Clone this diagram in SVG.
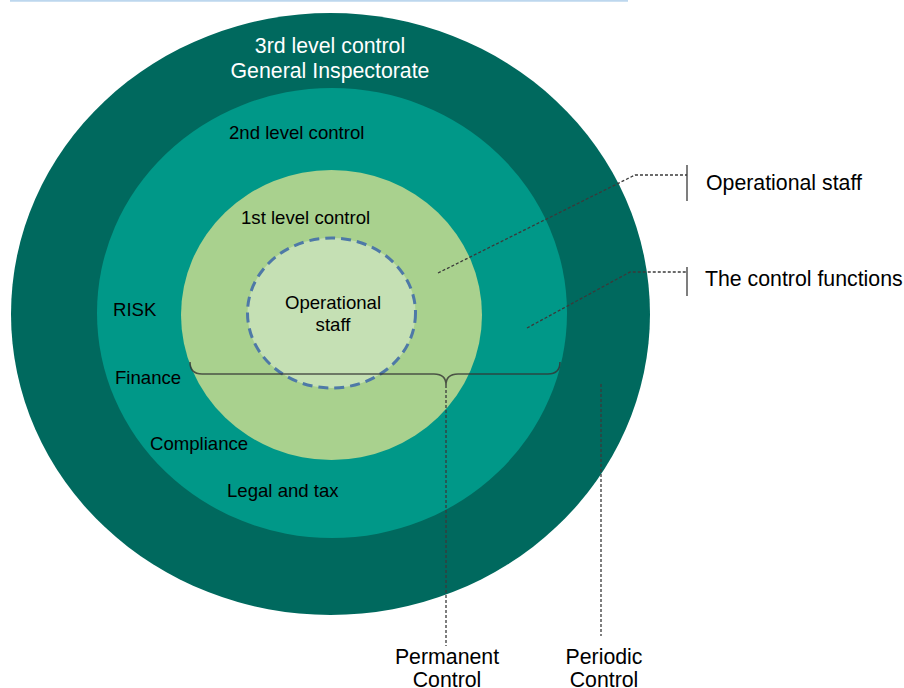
<svg xmlns="http://www.w3.org/2000/svg" width="904" height="688" viewBox="0 0 904 688">
  <style>
    .lbl { font-family: "Liberation Sans", Arial, sans-serif; fill: #000; }
    .s16 { font-size: 18.6px; }
    .s19 { font-size: 21.3px; }
    .white { fill: #ffffff; }
    .mid { text-anchor: middle; }
    .lead { fill: none; stroke: #3a3a3a; stroke-width: 1.3; stroke-dasharray: 3 2; }
    .tick { fill: none; stroke: #3a3a3a; stroke-width: 1.3; }
    .brace { fill: none; stroke: #333; stroke-opacity: 0.8; stroke-width: 1.6; }
  </style>

  <rect x="0" y="0" width="904" height="688" fill="#ffffff"/>
  <line x1="10" y1="0.8" x2="628" y2="0.8" stroke="#bdd7ee" stroke-width="2"/>

  <g id="level3">
    <ellipse cx="330.5" cy="314" rx="319.5" ry="301" fill="#00695e"/>
    <text class="lbl s19 white mid" x="330" y="53">3rd level control</text>
    <text class="lbl s19 white mid" x="330" y="78">General Inspectorate</text>
  </g>

  <g id="level2">
    <ellipse cx="332" cy="313" rx="235" ry="225" fill="#009888"/>
    <text class="lbl s16" x="229" y="139">2nd level control</text>
    <text class="lbl s16" x="113" y="316">RISK</text>
    <text class="lbl s16" x="115" y="384">Finance</text>
    <text class="lbl s16" x="150" y="450">Compliance</text>
    <text class="lbl s16" x="227" y="497">Legal and tax</text>
  </g>

  <g id="level1">
    <ellipse cx="331.5" cy="315" rx="150.5" ry="145" fill="#a9d18e"/>
    <text class="lbl s16" x="241" y="224">1st level control</text>
  </g>

  <g id="operational-core">
    <ellipse cx="331.5" cy="313" rx="84" ry="75" fill="#c5e0b4" stroke="#4e79a7" stroke-width="3" stroke-dasharray="10 6"/>
    <text class="lbl s16 mid" x="333" y="309">Operational</text>
    <text class="lbl s16 mid" x="333" y="331">staff</text>
  </g>

  <g id="connectors">
    <polyline class="lead" points="438,273 635,175 687,175"/>
    <line class="tick" x1="687" y1="165" x2="687" y2="201"/>
    <polyline class="lead" points="527,328 630,272 687,272"/>
    <line class="tick" x1="687" y1="267" x2="687" y2="296"/>
    <path class="brace" d="M190,362 Q190,374 202,374 L434,374 Q446,374 446,385 Q446,374 458,374 L548,374 Q560,374 560,362"/>
    <line class="lead" x1="446" y1="385" x2="446" y2="646"/>
    <line class="lead" x1="601" y1="384" x2="601" y2="636"/>
  </g>

  <g id="side-labels">
    <text class="lbl s19" x="706" y="190">Operational staff</text>
    <text class="lbl s19" x="705" y="286">The control functions</text>
  </g>

  <g id="bottom-labels">
    <text class="lbl s19 mid" x="447" y="664">Permanent</text>
    <text class="lbl s19 mid" x="447" y="687">Control</text>
    <text class="lbl s19 mid" x="604" y="664">Periodic</text>
    <text class="lbl s19 mid" x="604" y="687">Control</text>
  </g>
</svg>
